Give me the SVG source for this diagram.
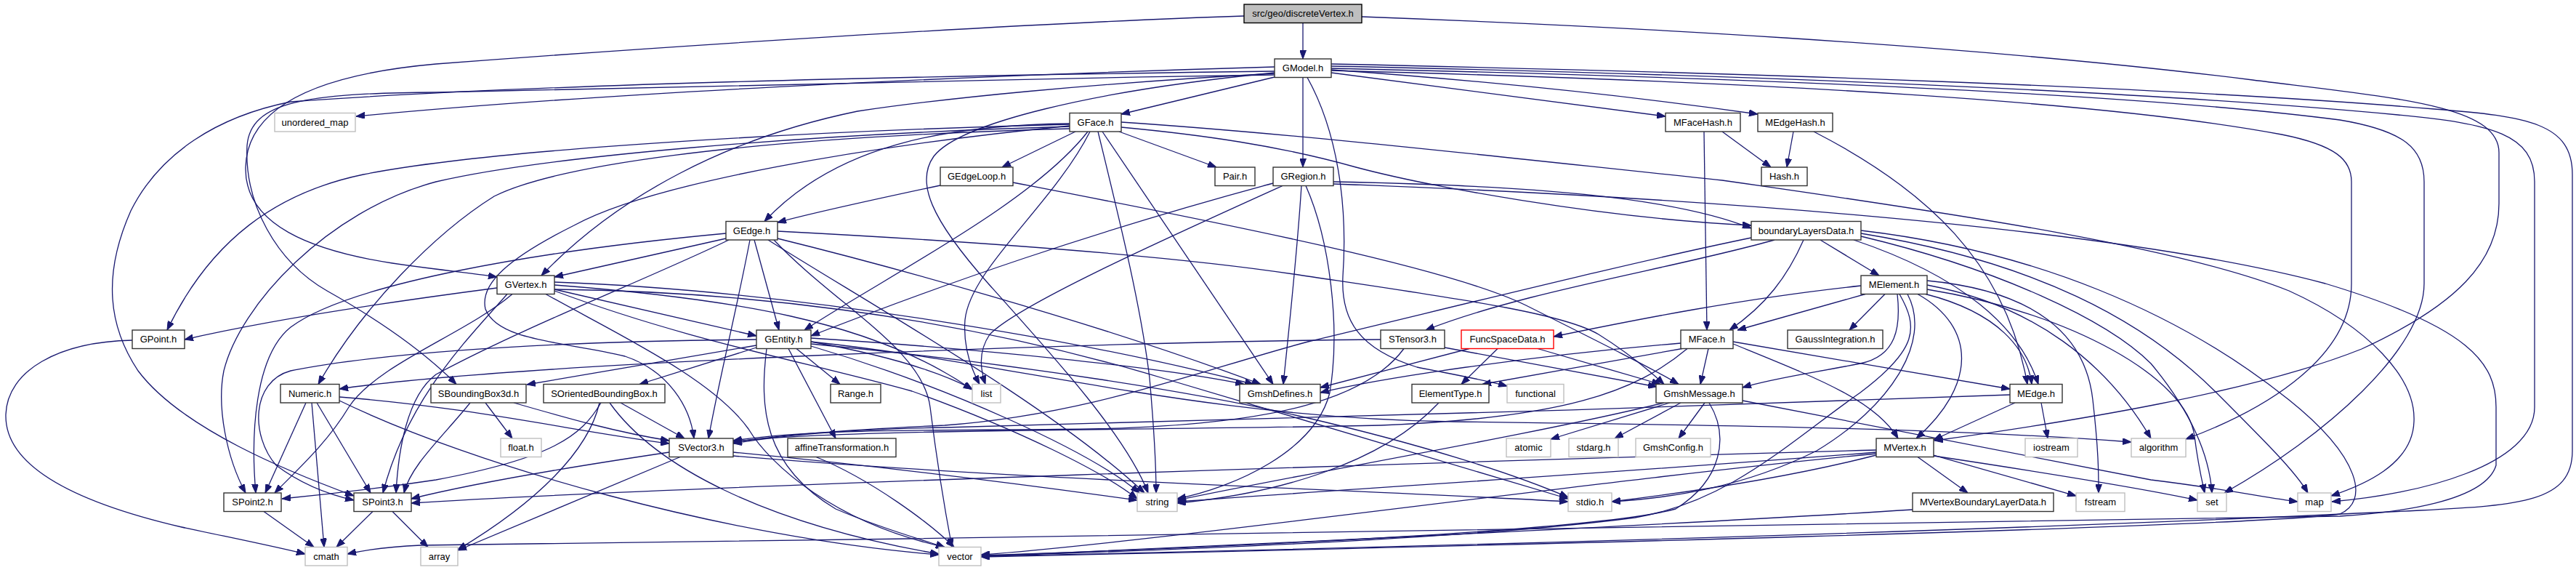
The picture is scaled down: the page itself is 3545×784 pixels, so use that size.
<svg xmlns="http://www.w3.org/2000/svg" width="3545" height="784" viewBox="0 0 3545 784">
<defs>
<marker id="a" markerWidth="12" markerHeight="9" refX="12" refY="4.5" orient="auto" markerUnits="userSpaceOnUse"><path d="M0,0 L12,4.5 L0,9 z" fill="#191970" stroke="#191970" stroke-width="1"/></marker>
<style>
.e path{fill:none;stroke:#191970;stroke-width:1.3;marker-end:url(#a)}
.n rect{fill:#fff;stroke:#333;stroke-width:1.4}
.x rect{fill:#fff;stroke:#bfbfbf;stroke-width:1.4}
.r rect{fill:#fff;stroke:#ff0000;stroke-width:1.4}
.root rect{fill:#bfbfbf;stroke:#000;stroke-width:1.4}
text{font-family:"Liberation Sans",Arial,Helvetica,sans-serif;font-size:13px;fill:#000;text-anchor:middle}
</style>
</defs>
<rect width="3545" height="784" fill="#fff"/>
<g id="edges" class="e">
<path d="M1793,31.5 L1793,81"/>
<path d="M1712,22 C1400,32 900,65 600,88 C430,103 340,150 338,230 C336,310 430,345 540,362 C610,372 650,376 684,381"/>
<path d="M1874,23 C2200,35 2700,60 3100,110 C3300,135 3439,145 3439,210 L3439,280 C3439,360 3380,420 3250,480 C3100,540 2850,580 2662,606"/>
<path d="M1754,92 C1300,105 800,130 490,160"/>
<path d="M1754,106 L1543,157"/>
<path d="M1793,106.5 L1793,230"/>
<path d="M1832,100 L2292,160"/>
<path d="M1832,96 C2100,115 2300,140 2419,157"/>
<path d="M1754,101 C1500,115 1300,135 1180,153 C1000,190 850,270 745,379"/>
<path d="M1754,98 C1200,105 700,118 400,140 C300,160 220,210 180,290 C140,380 150,450 190,510 C250,590 400,650 487,682"/>
<path d="M1754,103 C1300,110 800,120 600,127 C420,128 345,140 340,200 C336,280 380,360 450,400 C530,445 590,490 628,528.5"/>
<path d="M1754,100 C1500,125 1320,170 1285,215 C1260,250 1280,300 1360,390 C1450,490 1550,600 1580,678"/>
<path d="M1799,106.5 C1840,180 1855,280 1848,380 C1845,440 1870,480 1950,505 C2000,515 2040,522 2074,531"/>
<path d="M1832,88 C2400,100 3000,120 3350,150 C3480,160 3540,170 3540,240 L3540,620 C3540,690 3470,695 3330,702 C2800,728 2000,752 1350,765"/>
<path d="M1832,91 C2400,103 2950,125 3300,158 C3430,170 3488,185 3488,250 L3488,560 C3488,640 3330,680 3209,690"/>
<path d="M1832,94 C2450,108 2950,130 3220,165 C3310,180 3336,205 3336,250 L3336,390 C3336,480 3200,600 3061,678"/>
<path d="M1832,97 C2450,113 2900,140 3140,185 C3215,200 3236,220 3236,250 L3236,390 C3236,500 3100,570 3008,604"/>
<path d="M1480,181 L1379,230"/>
<path d="M1540,181 L1674,230"/>
<path d="M1497,181 C1420,280 1220,380 1107,454"/>
<path d="M1500,181 C1450,280 1335,370 1328,440 C1325,480 1338,510 1348,528.5"/>
<path d="M1511,181 C1540,300 1570,420 1582,520 C1589,600 1591,650 1591,678"/>
<path d="M1517,181 L1752,528.5"/>
<path d="M1472,171 C1200,178 700,200 500,240 C380,265 290,330 230,454"/>
<path d="M1472,174 C1100,185 750,215 600,250 C450,290 330,420 308,510 C298,560 312,630 338,678"/>
<path d="M1472,177 C1000,190 760,230 680,270 C600,320 500,420 438,528.5"/>
<path d="M1472,173 C1200,200 900,250 790,310 C700,355 660,390 668,425 C685,470 780,470 860,490 C920,510 950,560 955,603"/>
<path d="M1472,170 C1300,172 1150,200 1052,304.5"/>
<path d="M1543,175 C1650,185 1760,200 1866,230 C1960,255 2200,300 2410,310"/>
<path d="M1543,168 C1800,185 2100,220 2370,248 C2700,295 3000,340 3150,400 C3260,450 3325,520 3322,580 C3320,640 3250,668 3208,682"/>
<path d="M1294,255 C1200,275 1110,295 1070,306"/>
<path d="M1394,251 C1700,310 2000,370 2100,420 C2200,470 2280,510 2310,528.5"/>
<path d="M1752,252 C1500,320 1300,390 1116,462"/>
<path d="M1765,255.5 C1600,330 1400,420 1362,460 C1345,485 1350,510 1356,528.5"/>
<path d="M1791,255.5 C1785,350 1775,440 1766,528.5"/>
<path d="M1797,255.5 C1830,330 1845,450 1830,540 C1810,620 1700,670 1620,686"/>
<path d="M1835,250 C2100,255 2300,270 2410,314"/>
<path d="M1835,253 C2300,270 2900,310 3200,390 C3400,450 3435,500 3435,560 L3435,640 C3420,690 3300,705 3220,710 L1250,741 C900,746 650,748 579,750 C530,752 500,757 478,762"/>
<path d="M999,328 L763,381"/>
<path d="M1038,330 L1072,454"/>
<path d="M1032,330 C1015,420 990,520 975,603"/>
<path d="M999,321 C740,345 480,390 400,450 C350,490 345,600 352,678"/>
<path d="M1003,330 C900,380 720,450 600,515 C560,545 548,620 545,678"/>
<path d="M1070,318 C1300,330 1600,350 1780,377 C2000,410 2150,430 2200,460 C2240,485 2270,510 2290,528.5"/>
<path d="M1070,328 C1200,360 1500,440 1735,528.5"/>
<path d="M1057,330 C1200,420 1450,560 1575,678"/>
<path d="M1065,330 C1150,420 1270,480 1280,560 C1290,640 1300,700 1310,752.5"/>
<path d="M763,398 L1041,462"/>
<path d="M684,396 C500,420 350,445 254,467"/>
<path d="M705,404.5 C640,460 520,500 480,560 C450,610 405,650 378,678"/>
<path d="M698,404.5 C640,470 560,550 527,678"/>
<path d="M763,392 C1000,410 1200,440 1338,536"/>
<path d="M763,400 C950,470 1120,500 1255,538 C1400,590 1520,650 1565,686"/>
<path d="M763,388 C1100,400 1500,470 1725,528.5"/>
<path d="M763,398 C1000,400 1300,430 1600,520 C1800,580 2000,640 2158,686"/>
<path d="M751,404.5 C850,460 980,520 1030,590 C1060,640 1150,720 1300,752.5"/>
<path d="M1041,475 L725,529"/>
<path d="M1041,478 L880,528.5"/>
<path d="M1096,479.5 L1156,528.5"/>
<path d="M1085,479.5 L1150,603"/>
<path d="M1041,467 C700,470 500,490 400,510 C345,525 345,600 380,640 C420,670 460,682 487,688"/>
<path d="M1116,470 C1200,485 1280,505 1338,535"/>
<path d="M1116,476 C1300,530 1500,620 1568,678"/>
<path d="M1055,479.5 C1045,560 1050,640 1150,700 C1220,730 1280,745 1300,753"/>
<path d="M1116,465 C1350,480 1600,505 1712,528.5"/>
<path d="M1116,470 C1400,500 1650,575 2000,580 C2400,585 2700,590 2933,608"/>
<path d="M1116,473 C1400,500 1650,540 1800,575 C1950,610 2080,650 2158,684"/>
<path d="M1900,467 C1500,470 700,500 467,535"/>
<path d="M1932,479.5 C1880,550 1750,585 1500,590 C1300,593 1130,588 1009,606"/>
<path d="M1988,478 L2280,532"/>
<path d="M2061,479.5 L2011,528.5"/>
<path d="M2022,479.5 L1817,533"/>
<path d="M2116,479.5 L2285,528.5"/>
<path d="M1980,554 C1900,640 1750,680 1620,692"/>
<path d="M2351,479.5 L2340,528.5"/>
<path d="M2315,479.5 L2040,528.5"/>
<path d="M2313,472 C2100,490 1900,520 1817,540"/>
<path d="M2385,470 L2766,535"/>
<path d="M2385,473 C2500,520 2580,550 2612,603"/>
<path d="M2322,479.5 C2250,540 2150,575 1900,585 C1600,592 1120,590 1009,608"/>
<path d="M2567,404.5 L2391,454"/>
<path d="M2594,404.5 L2545,454"/>
<path d="M2611,404.5 C2616,450 2610,490 2560,500 C2500,512 2440,520 2398,533"/>
<path d="M2639,404.5 C2720,450 2720,530 2637,603"/>
<path d="M2650,404.5 C2750,430 2790,480 2796,528.5"/>
<path d="M2652,386 C2800,400 2870,460 2880,550 C2888,620 2888,650 2888,678"/>
<path d="M2561,393 C2400,410 2250,440 2138,463"/>
<path d="M2652,392 C2800,420 2900,500 2960,603"/>
<path d="M2652,398 C2850,430 3010,520 3020,600 C3025,640 3030,660 3034,678"/>
<path d="M2614,404.5 C2640,450 2640,480 2560,540 C2460,610 2380,690 2250,712 C2000,745 1500,760 1350,765"/>
<path d="M2625,404.5 C2660,470 2600,560 2500,620 C2400,670 2300,685 2218,690"/>
<path d="M2370,181 L2437,230"/>
<path d="M2345,181 C2346,300 2348,400 2349,454"/>
<path d="M2468,181 L2459,230"/>
<path d="M2496,181 C2650,260 2760,360 2790,528.5"/>
<path d="M2505,330 L2586,379"/>
<path d="M2442,330 C2300,370 2100,400 1962,454"/>
<path d="M2410,327 C2250,360 2050,410 1800,470 C1650,510 1500,570 1300,585 C1150,592 1080,598 1009,608"/>
<path d="M2482,330 C2460,380 2430,420 2380,454"/>
<path d="M2551,330 C2700,380 2780,450 2805,528.5"/>
<path d="M2561,325 C2750,370 2900,440 2960,500 C3010,560 3040,620 3044,678"/>
<path d="M2561,321 C2800,360 2950,440 3050,540 C3120,610 3160,650 3176,678"/>
<path d="M2561,317 C2800,345 3000,430 3150,550 C3250,630 3260,690 3220,707 C3100,725 2000,752 1350,766"/>
<path d="M421,554 L365,678"/>
<path d="M436,554 L510,678"/>
<path d="M429,554 L446,752.5"/>
<path d="M467,546 C650,560 800,595 921,610"/>
<path d="M467,551 C650,640 1000,740 1292,763"/>
<path d="M668,554 L705,603"/>
<path d="M647,554 C610,600 565,640 556,678"/>
<path d="M707,554 C780,575 850,595 921,606"/>
<path d="M854,554 L942,603"/>
<path d="M827,554 C800,600 760,630 600,660 C500,675 430,682 388,686"/>
<path d="M825,554 C810,620 740,690 630,756"/>
<path d="M839,554 C900,640 1050,720 1292,762"/>
<path d="M921,622 C800,640 650,665 566,686"/>
<path d="M936,628.5 L630,757"/>
<path d="M1009,622 C1200,640 1400,665 1565,688"/>
<path d="M1009,627 C1400,660 1900,675 2158,690"/>
<path d="M1123,628.5 C1200,660 1280,720 1313,752.5"/>
<path d="M363,703.5 L432,752.5"/>
<path d="M513,703.5 L463,752.5"/>
<path d="M540,703.5 L589,752.5"/>
<path d="M182,468 C80,470 10,510 8,570 C6,640 100,690 250,725 C320,740 380,752 420,762"/>
<path d="M2298,554 L2134,604"/>
<path d="M2313,554 L2222,603"/>
<path d="M2346,554 L2310,603"/>
<path d="M2352,554 C2380,600 2370,660 2306,700 C2200,730 1700,752 1350,764"/>
<path d="M2290,554 C2100,600 1800,650 1620,688"/>
<path d="M2398,551 L2960,660 C3060,672 3120,685 3162,690"/>
<path d="M2639,628.5 L2708,678"/>
<path d="M2661,626 L2857,682"/>
<path d="M2661,627 C2800,648 2950,672 3024,688"/>
<path d="M2582,626 C2450,660 2300,680 2218,690"/>
<path d="M2582,622 C2300,645 1900,670 1620,690"/>
<path d="M2582,619 C2000,635 900,670 566,692"/>
<path d="M2582,624 C2200,660 1600,745 1350,763"/>
<path d="M2632,701 C2300,722 1700,750 1350,765"/>
<path d="M2773,554 L2661,605"/>
<path d="M2809,554 L2818,603"/>
<path d="M2766,543 C2300,560 1700,580 1300,588 C1150,591 1070,600 1009,610"/>
</g>
<g id="n_src" class="root"><rect x="1712" y="6" width="162" height="25.5"/><text x="1793" y="23">src/geo/discreteVertex.h</text></g>
<g id="n_GModel" class="n"><rect x="1754" y="81" width="78" height="25.5"/><text x="1793" y="98">GModel.h</text></g>
<g id="n_unordered_map" class="x"><rect x="378" y="155.5" width="111" height="25.5"/><text x="433.5" y="172.5">unordered_map</text></g>
<g id="n_GFace" class="n"><rect x="1472" y="155.5" width="71" height="25.5"/><text x="1507.5" y="172.5">GFace.h</text></g>
<g id="n_MFaceHash" class="n"><rect x="2292" y="155.5" width="103" height="25.5"/><text x="2343.5" y="172.5">MFaceHash.h</text></g>
<g id="n_MEdgeHash" class="n"><rect x="2419" y="155.5" width="103" height="25.5"/><text x="2470.5" y="172.5">MEdgeHash.h</text></g>
<g id="n_GEdgeLoop" class="n"><rect x="1294" y="230" width="100" height="25.5"/><text x="1344" y="247">GEdgeLoop.h</text></g>
<g id="n_Pair" class="n"><rect x="1672" y="230" width="55" height="25.5"/><text x="1699.5" y="247">Pair.h</text></g>
<g id="n_GRegion" class="n"><rect x="1752" y="230" width="83" height="25.5"/><text x="1793.5" y="247">GRegion.h</text></g>
<g id="n_Hash" class="n"><rect x="2424" y="230" width="63" height="25.5"/><text x="2455.5" y="247">Hash.h</text></g>
<g id="n_GEdge" class="n"><rect x="999" y="304.5" width="71" height="25.5"/><text x="1034.5" y="321.5">GEdge.h</text></g>
<g id="n_boundaryLayersData" class="n"><rect x="2410" y="304.5" width="151" height="25.5"/><text x="2485.5" y="321.5">boundaryLayersData.h</text></g>
<g id="n_GVertex" class="n"><rect x="684" y="379" width="79" height="25.5"/><text x="723.5" y="396">GVertex.h</text></g>
<g id="n_MElement" class="n"><rect x="2561" y="379" width="91" height="25.5"/><text x="2606.5" y="396">MElement.h</text></g>
<g id="n_GPoint" class="n"><rect x="182" y="454" width="72" height="25.5"/><text x="218" y="471">GPoint.h</text></g>
<g id="n_GEntity" class="n"><rect x="1041" y="454" width="75" height="25.5"/><text x="1078.5" y="471">GEntity.h</text></g>
<g id="n_STensor3" class="n"><rect x="1900" y="454" width="88" height="25.5"/><text x="1944" y="471">STensor3.h</text></g>
<g id="n_FuncSpaceData" class="r"><rect x="2011" y="454" width="127" height="25.5"/><text x="2074.5" y="471">FuncSpaceData.h</text></g>
<g id="n_MFace" class="n"><rect x="2313" y="454" width="72" height="25.5"/><text x="2349" y="471">MFace.h</text></g>
<g id="n_GaussIntegration" class="n"><rect x="2460" y="454" width="131" height="25.5"/><text x="2525.5" y="471">GaussIntegration.h</text></g>
<g id="n_Numeric" class="n"><rect x="386" y="528.5" width="81" height="25.5"/><text x="426.5" y="545.5">Numeric.h</text></g>
<g id="n_SBoundingBox3d" class="n"><rect x="593" y="528.5" width="131" height="25.5"/><text x="658.5" y="545.5">SBoundingBox3d.h</text></g>
<g id="n_SOrientedBoundingBox" class="n"><rect x="748" y="528.5" width="167" height="25.5"/><text x="831.5" y="545.5">SOrientedBoundingBox.h</text></g>
<g id="n_Range" class="n"><rect x="1143" y="528.5" width="69" height="25.5"/><text x="1177.5" y="545.5">Range.h</text></g>
<g id="n_list" class="x"><rect x="1338" y="528.5" width="39" height="25.5"/><text x="1357.5" y="545.5">list</text></g>
<g id="n_GmshDefines" class="n"><rect x="1706" y="528.5" width="111" height="25.5"/><text x="1761.5" y="545.5">GmshDefines.h</text></g>
<g id="n_ElementType" class="n"><rect x="1943" y="528.5" width="106" height="25.5"/><text x="1996" y="545.5">ElementType.h</text></g>
<g id="n_functional" class="x"><rect x="2074" y="528.5" width="78" height="25.5"/><text x="2113" y="545.5">functional</text></g>
<g id="n_GmshMessage" class="n"><rect x="2279" y="528.5" width="119" height="25.5"/><text x="2338.5" y="545.5">GmshMessage.h</text></g>
<g id="n_MEdge" class="n"><rect x="2766" y="528.5" width="72" height="25.5"/><text x="2802" y="545.5">MEdge.h</text></g>
<g id="n_float" class="x"><rect x="689" y="603" width="56" height="25.5"/><text x="717" y="620">float.h</text></g>
<g id="n_SVector3" class="n"><rect x="921" y="603" width="88" height="25.5"/><text x="965" y="620">SVector3.h</text></g>
<g id="n_affineTransformation" class="n"><rect x="1084" y="603" width="149" height="25.5"/><text x="1158.5" y="620">affineTransformation.h</text></g>
<g id="n_atomic" class="x"><rect x="2073" y="603" width="61" height="25.5"/><text x="2103.5" y="620">atomic</text></g>
<g id="n_stdarg" class="x"><rect x="2159" y="603" width="68" height="25.5"/><text x="2193" y="620">stdarg.h</text></g>
<g id="n_GmshConfig" class="x"><rect x="2251" y="603" width="103" height="25.5"/><text x="2302.5" y="620">GmshConfig.h</text></g>
<g id="n_MVertex" class="n"><rect x="2582" y="603" width="79" height="25.5"/><text x="2621.5" y="620">MVertex.h</text></g>
<g id="n_iostream" class="x"><rect x="2787" y="603" width="72" height="25.5"/><text x="2823" y="620">iostream</text></g>
<g id="n_algorithm" class="x"><rect x="2933" y="603" width="75" height="25.5"/><text x="2970.5" y="620">algorithm</text></g>
<g id="n_SPoint2" class="n"><rect x="308" y="678" width="79" height="25.5"/><text x="347.5" y="695">SPoint2.h</text></g>
<g id="n_SPoint3" class="n"><rect x="487" y="678" width="79" height="25.5"/><text x="526.5" y="695">SPoint3.h</text></g>
<g id="n_string" class="x"><rect x="1565" y="678" width="55" height="25.5"/><text x="1592.5" y="695">string</text></g>
<g id="n_stdio" class="x"><rect x="2158" y="678" width="60" height="25.5"/><text x="2188" y="695">stdio.h</text></g>
<g id="n_MVertexBoundaryLayerData" class="n"><rect x="2632" y="678" width="194" height="25.5"/><text x="2729" y="695">MVertexBoundaryLayerData.h</text></g>
<g id="n_fstream" class="x"><rect x="2857" y="678" width="67" height="25.5"/><text x="2890.5" y="695">fstream</text></g>
<g id="n_set" class="x"><rect x="3024" y="678" width="40" height="25.5"/><text x="3044" y="695">set</text></g>
<g id="n_map" class="x"><rect x="3162" y="678" width="46" height="25.5"/><text x="3185" y="695">map</text></g>
<g id="n_cmath" class="x"><rect x="420" y="752.5" width="58" height="25.5"/><text x="449" y="769.5">cmath</text></g>
<g id="n_array" class="x"><rect x="579" y="752.5" width="51" height="25.5"/><text x="604.5" y="769.5">array</text></g>
<g id="n_vector" class="x"><rect x="1292" y="752.5" width="58" height="25.5"/><text x="1321" y="769.5">vector</text></g>
</svg>
